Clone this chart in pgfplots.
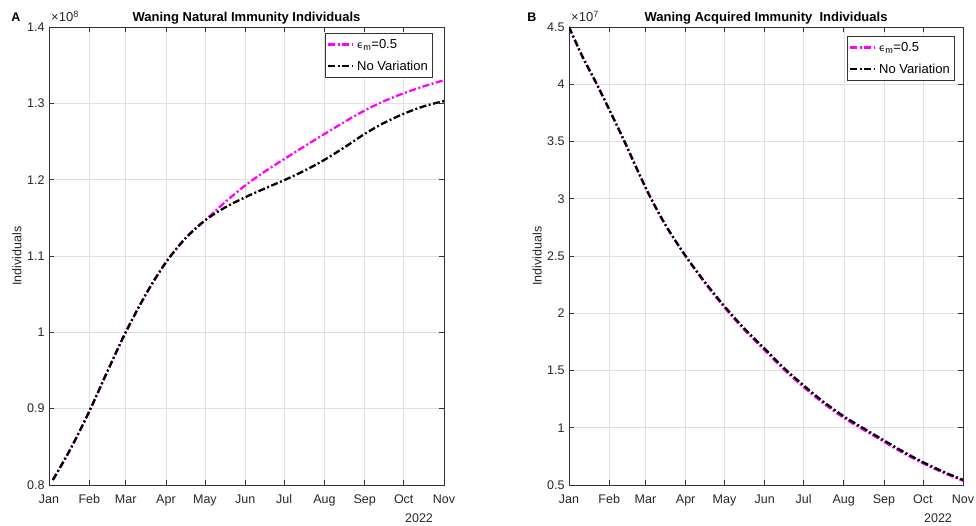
\documentclass[border=0pt]{standalone}
\usepackage{pgfplots}
\usepackage{pgfplotstable}
\pgfplotsset{compat=1.18}
\usepackage{fontspec}
\setmainfont{Liberation Sans}
\newfontfamily\symfont{DejaVu Sans}
\definecolor{mlmagenta}{RGB}{255,0,255}

% Natural immunity waning (units of 1e8), day of year 2022
\pgfplotstableread{
day val
3 0.8066
17 0.8486
31 0.8965
45 0.9490
59 1.0000
75 1.0512
90 1.0917
105 1.1232
120 1.1465
136 1.1641
152 1.1777
167 1.1891
182 1.2001
197 1.2121
212 1.2260
228 1.2430
243 1.2600
258 1.2745
274 1.2870
289 1.2964
304 1.3030
}\natbase

\pgfplotstableread{
day val
3 0.8066
17 0.8486
31 0.8965
45 0.9490
59 1.0000
75 1.0512
90 1.0917
105 1.1232
120 1.1465
136 1.1713
152 1.1937
167 1.2117
182 1.2281
197 1.2441
212 1.2598
228 1.2763
243 1.2907
258 1.3030
274 1.3139
289 1.3226
304 1.3303
}\natvar

% Acquired immunity waning (units of 1e7)
\pgfplotstableread{
day val
0 4.50
10 4.25
21 4.01
31 3.78
42 3.52
52 3.27
62 3.03
75 2.76
90 2.50
105 2.27
120 2.06
135 1.87
151 1.69
166 1.52
181 1.37
196 1.23
212 1.10
228 0.99
243 0.89
258 0.79
273 0.70
288 0.62
304 0.545
}\acqbase

\pgfplotstableread{
day val
0 4.50
10 4.25
21 4.01
31 3.78
42 3.52
52 3.27
62 3.03
75 2.76
90 2.497
105 2.262
120 2.05
135 1.858
151 1.676
166 1.506
181 1.355
196 1.216
212 1.086
228 0.977
243 0.877
258 0.779
273 0.690
288 0.611
304 0.537
}\acqvar

\pgfplotsset{
  matlab/.style={
    scale only axis,
    height=458pt,
    xmin=0, xmax=304,
    xtick={0,31,59,90,120,151,181,212,243,273,304},
    xticklabels={Jan,Feb,Mar,Apr,May,Jun,Jul,Aug,Sep,Oct,Nov},
    grid=major,
    major grid style={line width=0.5pt, draw=black!12},
    axis line style={draw=black!80, line width=0.6pt},
    tick style={draw=black!80, line width=0.6pt},
    major tick length=5pt,
    tick align=inside,
    scaled y ticks=false,
    /pgf/number format/assume math mode=true,
    ticklabel style={font=\fontsize{12.5}{14}\selectfont, text=black!85},
    xticklabel style={yshift=-6pt},
    yticklabel style={xshift=-1pt},
    title style={anchor=base, yshift=-1pt,
                 font=\bfseries\fontsize{13}{15}\selectfont},
    ylabel style={at={(axis description cs:-0.081,0.5)}, anchor=center,
                  font=\fontsize{12.5}{14}\selectfont, text=black!85},
    legend style={at={(1,1)}, anchor=north east, xshift=-12pt, yshift=-6pt,
                  draw=black!80, line width=0.5pt,
                  font=\fontsize{13}{15}\selectfont,
                  inner xsep=2pt, inner ysep=4pt, row sep=7pt, column sep=2pt},
    legend cell align=left,
    legend image code/.code={\draw[#1] (0pt,0pt) -- (24pt,0pt);},
  },
  varline/.style={mlmagenta, line width=2.3pt,
                  dash pattern=on 7pt off 2.5pt on 2pt off 2.5pt},
  baseline/.style={black, line width=2.3pt,
                   dash pattern=on 7pt off 2.5pt on 2pt off 2.5pt},
}

\begin{document}
\begin{tikzpicture}
\useasboundingbox (0pt,0pt) rectangle (976pt,526pt);

% Panel A
\begin{axis}[matlab, width=395pt, at={(49pt,41pt)}, anchor=south west,
  ymin=0.8, ymax=1.4, ytick={0.8,0.9,1,1.1,1.2,1.3,1.4},
  title={Waning Natural Immunity Individuals},
  ylabel={Individuals}]
\addplot[varline, smooth] table[x=day, y=val] {\natvar};
\addlegendentry{{\symfont\fontsize{10}{12}\selectfont ϵ}\textsubscript{m}=0.5}
\addplot[baseline, smooth] table[x=day, y=val] {\natbase};
\addlegendentry{No Variation}
\end{axis}

% Panel B
\begin{axis}[matlab, width=394pt, at={(569pt,41pt)}, anchor=south west,
  ymin=0.5, ymax=4.5, ytick={0.5,1,1.5,2,2.5,3,3.5,4,4.5},
  title={Waning Acquired Immunity~~Individuals},
  ylabel={Individuals}, legend style={xshift=3pt, yshift=-3pt}]
\addplot[varline, smooth] table[x=day, y=val] {\acqvar};
\addlegendentry{{\symfont\fontsize{10}{12}\selectfont ϵ}\textsubscript{m}=0.5}
\addplot[baseline, smooth] table[x=day, y=val] {\acqbase};
\addlegendentry{No Variation}
\end{axis}

% Panel letters, exponent labels and year labels
\node[anchor=base, font=\bfseries\fontsize{12.5}{14}\selectfont] at (16pt,504pt) {A};
\node[anchor=base, font=\bfseries\fontsize{12.5}{14}\selectfont] at (532pt,504pt) {B};
\node[anchor=base west, inner sep=0pt, text=black!85, font=\fontsize{13}{15}\selectfont] at (51pt,504pt) {×10\textsuperscript{8}};
\node[anchor=base west, inner sep=0pt, text=black!85, font=\fontsize{13}{15}\selectfont] at (571pt,504pt) {×10\textsuperscript{7}};
\node[anchor=base, inner sep=0pt, text=black!85, font=\fontsize{12.5}{14}\selectfont] at (419pt,3pt) {2022};
\node[anchor=base, inner sep=0pt, text=black!85, font=\fontsize{12.5}{14}\selectfont] at (938pt,3pt) {2022};
\end{tikzpicture}
\end{document}
